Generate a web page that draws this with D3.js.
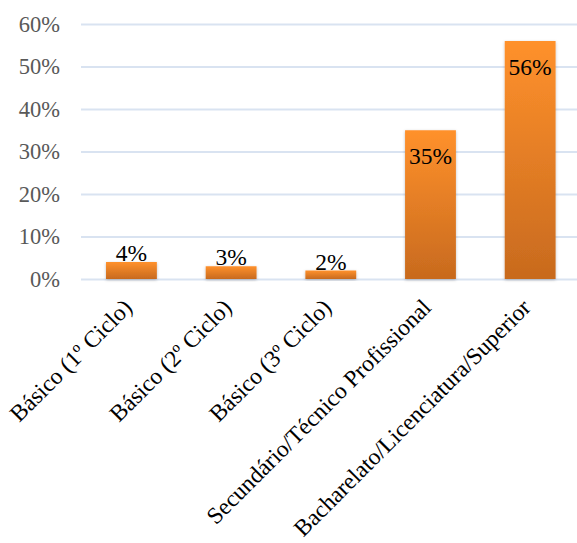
<!DOCTYPE html>
<html><head><meta charset="utf-8">
<script src="https://cdn.jsdelivr.net/npm/d3@7"></script>
<style>body{margin:0;background:#fff}svg{display:block}</style>
</head><body>
<script>
const categories = ["Básico (1º Ciclo)","Básico (2º Ciclo)","Básico (3º Ciclo)","Secundário/Técnico Profissional","Bacharelato/Licenciatura/Superior"];
const values = [0.04,0.03,0.02,0.35,0.56];
const labels = ["4%","3%","2%","35%","56%"];
const yTicks = [0,0.1,0.2,0.3,0.4,0.5,0.6];

const W=577,H=543;
const FONT="'Liberation Serif','Times New Roman',serif";
const svg=d3.select("body").append("svg").attr("width",W).attr("height",H);
const defs=svg.append("defs");
const g1=defs.append("linearGradient").attr("id","bg").attr("x1",0).attr("y1",0).attr("x2",0).attr("y2",1);
g1.append("stop").attr("offset","0%").attr("stop-color","#FF912C");
g1.append("stop").attr("offset","100%").attr("stop-color","#C86A1E");
const f=defs.append("filter").attr("id","sh").attr("x","-20%").attr("y","-20%").attr("width","140%").attr("height","140%");
f.append("feDropShadow").attr("dx",0).attr("dy",1).attr("stdDeviation",1.5).attr("flood-color","#000").attr("flood-opacity",0.25);

const x=d3.scaleBand().domain(categories).range([81.6,580]).paddingInner(0.49).paddingOuter(0.245);
const y=d3.scaleLinear().domain([0,0.6]).range([279,24]);

const yAxis=svg.append("g").attr("transform","translate(81,0)")
  .call(d3.axisLeft(y).tickValues(yTicks).tickFormat(d3.format(".0%")).tickSize(-(577-81)).tickPadding(21));
yAxis.attr("font-family",FONT);
yAxis.select(".domain").remove();
yAxis.selectAll("line").attr("stroke","#D9E3F1").attr("stroke-width",2);
yAxis.selectAll("text").attr("fill","#595959").style("font-family",FONT).style("font-size","22.5px");

svg.append("g").selectAll("rect").data(values).join("rect")
  .attr("x",(d,i)=>x(categories[i])).attr("width",x.bandwidth())
  .attr("y",d=>y(d)).attr("height",d=>y(0)-y(d))
  .attr("fill","url(#bg)").attr("filter","url(#sh)");

svg.append("g").selectAll("text").data(values).join("text")
  .attr("x",(d,i)=>x(categories[i])+x.bandwidth()/2)
  .attr("y",d=>d>0.1? y(d)+34 : y(d)-1)
  .attr("text-anchor","middle")
  .style("font-family",FONT).style("font-size","23.5px").attr("fill","#000")
  .text((d,i)=>labels[i]);

svg.append("g").selectAll("text").data(categories).join("text")
  .attr("transform",d=>`translate(${x(d)+x.bandwidth()/2+2},${309}) rotate(-45)`)
  .attr("text-anchor","end")
  .style("font-family",FONT).style("font-size","23.5px").attr("fill","#000")
  .text(d=>d);
</script>
</body></html>
